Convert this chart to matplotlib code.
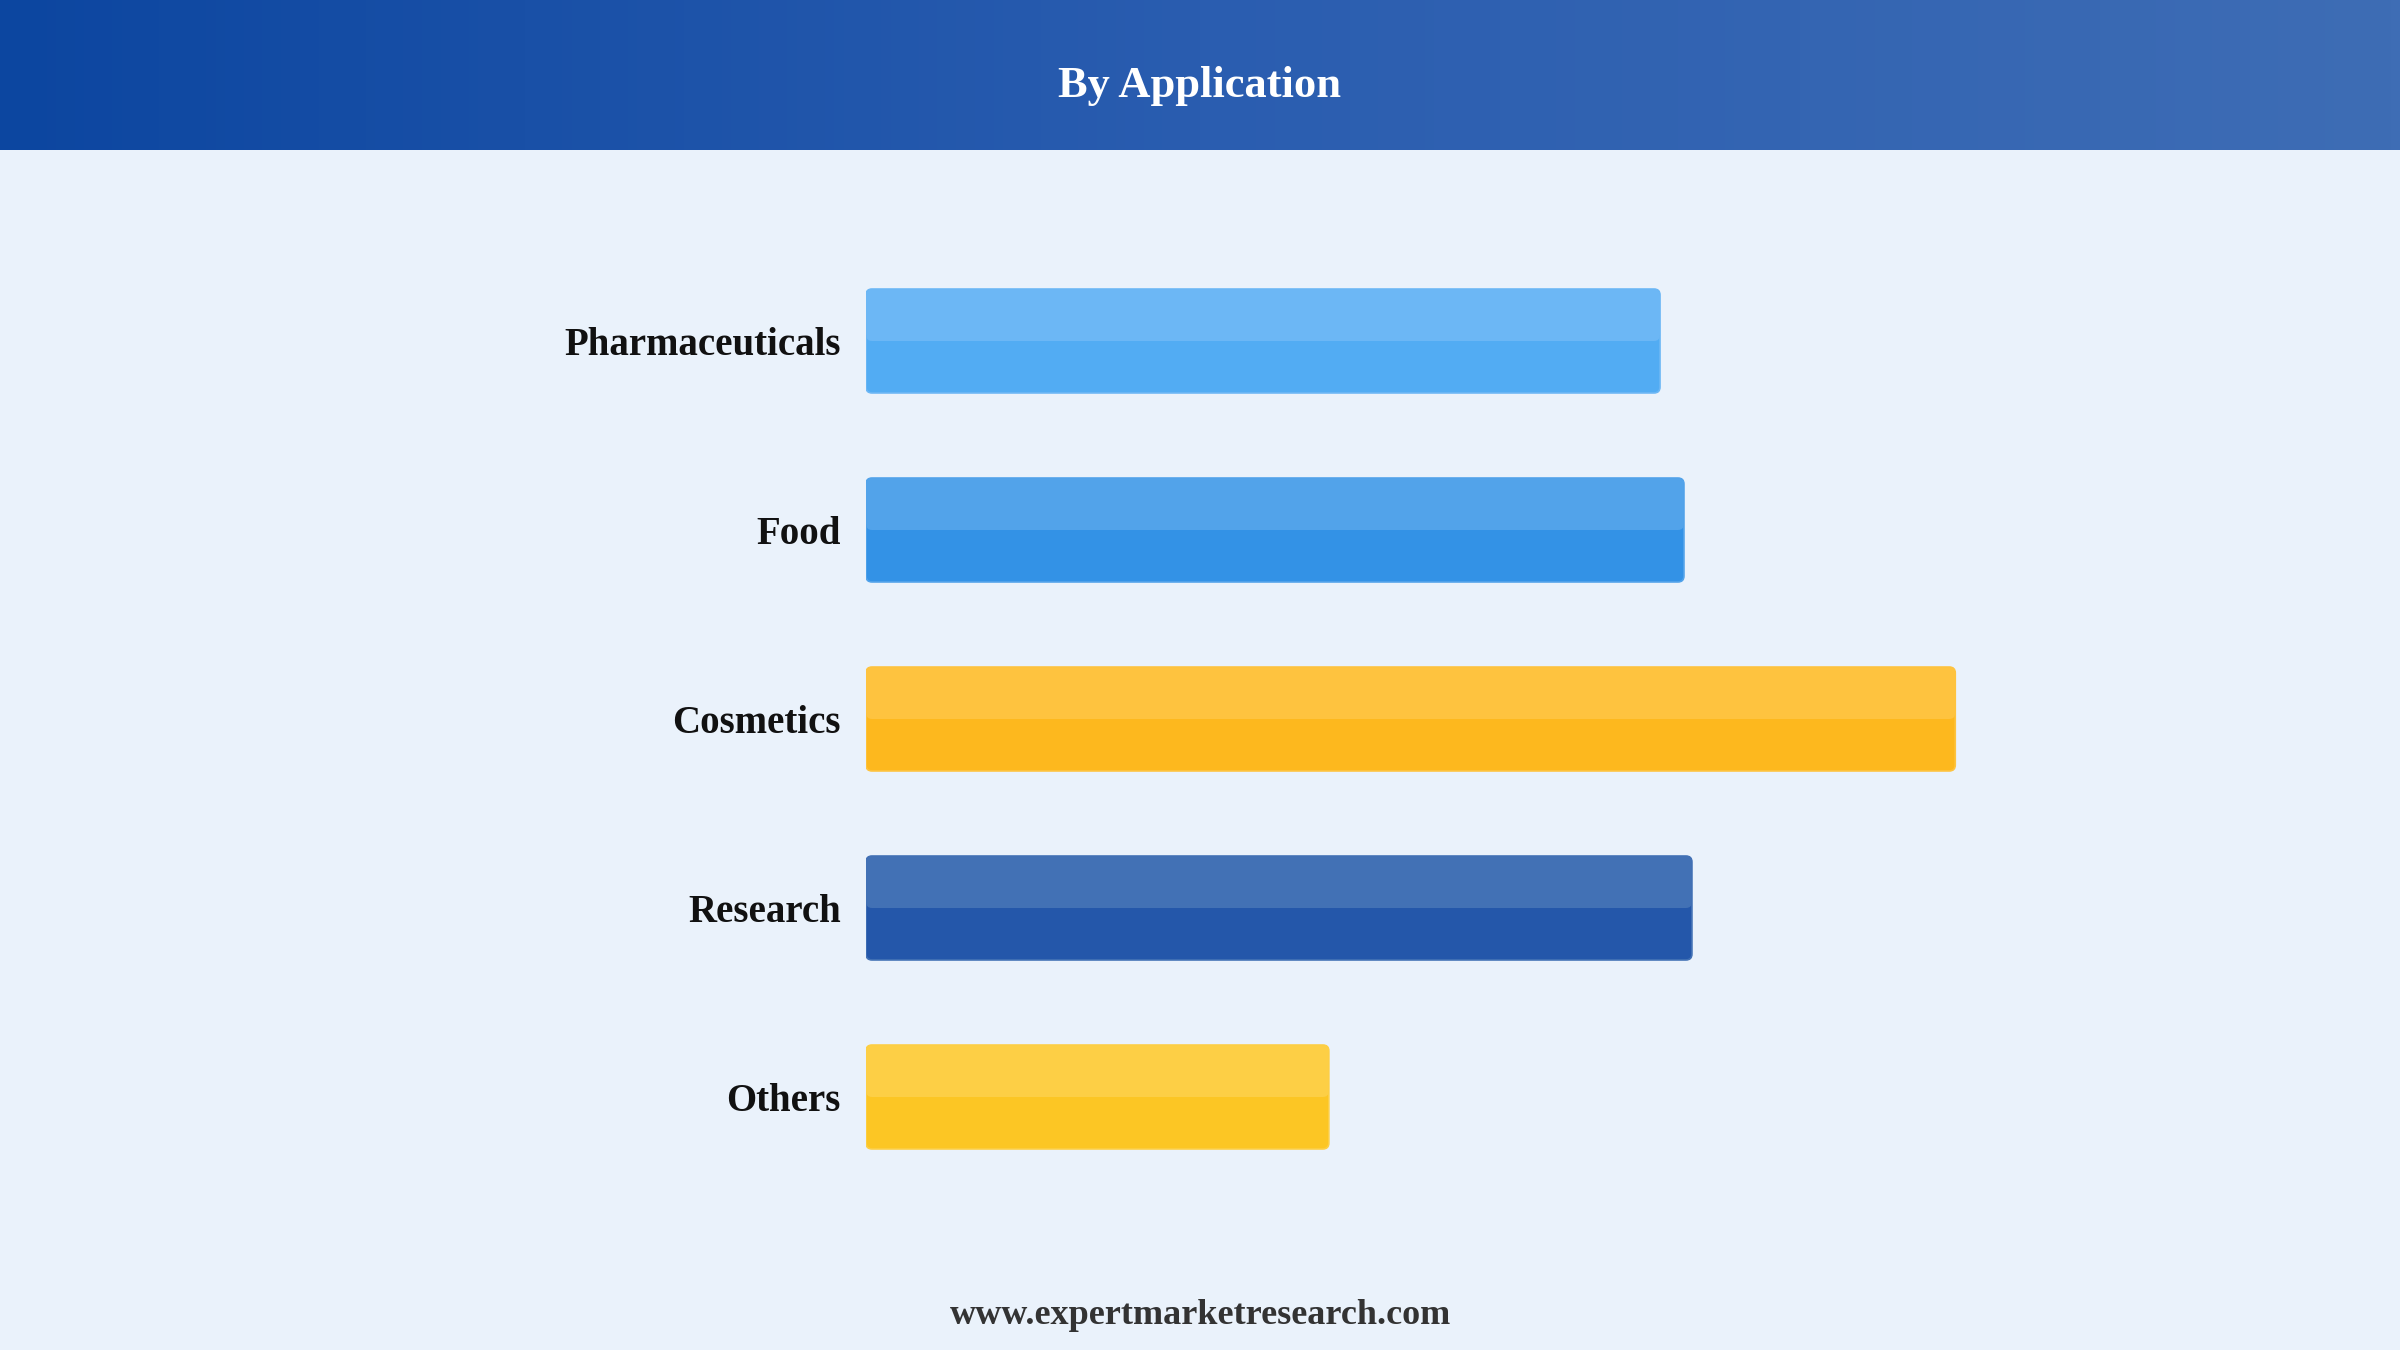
import numpy as np
import matplotlib
matplotlib.use("Agg")
from matplotlib import pyplot as plt
from matplotlib.patches import FancyBboxPatch
from matplotlib.colors import LinearSegmentedColormap

# Data (no axis shown -> relative shares)
categories = ["Pharmaceuticals", "Food", "Cosmetics", "Research", "Others"]
values = [19.9, 20.5, 27.3, 20.7, 11.6]
colors_bottom = ["#52acf3", "#3392e6", "#fdb81e", "#2457aa", "#fcc624"]
colors_top = ["#6cb7f5", "#52a3ea", "#fec33f", "#4271b5", "#fdcf45"]

title = "By Application"
footer = "www.expertmarketresearch.com"

BG = "#eaf2fb"
plt.rcParams["font.family"] = ["Liberation Serif", "DejaVu Serif"]

fig = plt.figure(figsize=(24, 13.5), dpi=100)
fig.patch.set_facecolor(BG)

# Header band with a horizontal gradient
hax = fig.add_axes([0, 1 - 150 / 1350, 1, 150 / 1350])
cmap = LinearSegmentedColormap.from_list("hdr", ["#0c46a0", "#2a5db0", "#3e6db5"])
hax.imshow(np.linspace(0, 1, 512)[None, :], aspect="auto", cmap=cmap,
           extent=[0, 1, 0, 1])
hax.set_axis_off()
hax.text(0.5, 0.43, title, color="white", fontsize=32, fontweight="bold",
         ha="center", va="center", transform=hax.transAxes)

# Bar area
ax = fig.add_axes([866 / 2400, 1 - 1200 / 1350, 1197 / 2400, 1000 / 1350])
ax.set_facecolor(BG)
ypos = np.arange(len(categories))
h = 0.55
xmax = 30

bars = ax.barh(ypos, values, height=h, color=colors_bottom)
ax.set_xlim(0, xmax)
ax.set_ylim(4.545, -0.746)

# rounded corners: radius in pixels converted to data units
px_x = xmax / 1197
px_y = (4.545 + 0.746) / 1000
r = 6 * px_x
asp = px_y / px_x
for bar, ct, cb in zip(bars, colors_top, colors_bottom):
    x0, y0 = bar.get_x(), bar.get_y()
    w, hh = bar.get_width(), bar.get_height()
    bar.set_visible(False)
    ax.add_patch(FancyBboxPatch((x0, y0), w, hh,
                                boxstyle=f"round,pad=0,rounding_size={r}",
                                mutation_aspect=asp, facecolor=cb,
                                edgecolor=ct, linewidth=1.2, zorder=2))
    # lighter upper half (y axis inverted -> upper half is y0..y0+hh/2)
    ax.add_patch(FancyBboxPatch((x0, y0), w, hh / 2,
                                boxstyle=f"round,pad=0,rounding_size={r}",
                                mutation_aspect=asp, facecolor=ct,
                                edgecolor="none", zorder=3))

ax.set_yticks(ypos)
ax.set_yticklabels(categories, fontsize=28, fontweight="bold", color="#111111")
ax.tick_params(axis="y", length=0, pad=18)
ax.set_xticks([])
for s in ax.spines.values():
    s.set_visible(False)

fig.text(0.5, 1 - 1315 / 1350, footer, ha="center", va="center",
         fontsize=26, fontweight="bold", color="#333333")

fig.savefig("out.png", dpi=100, facecolor=BG)
